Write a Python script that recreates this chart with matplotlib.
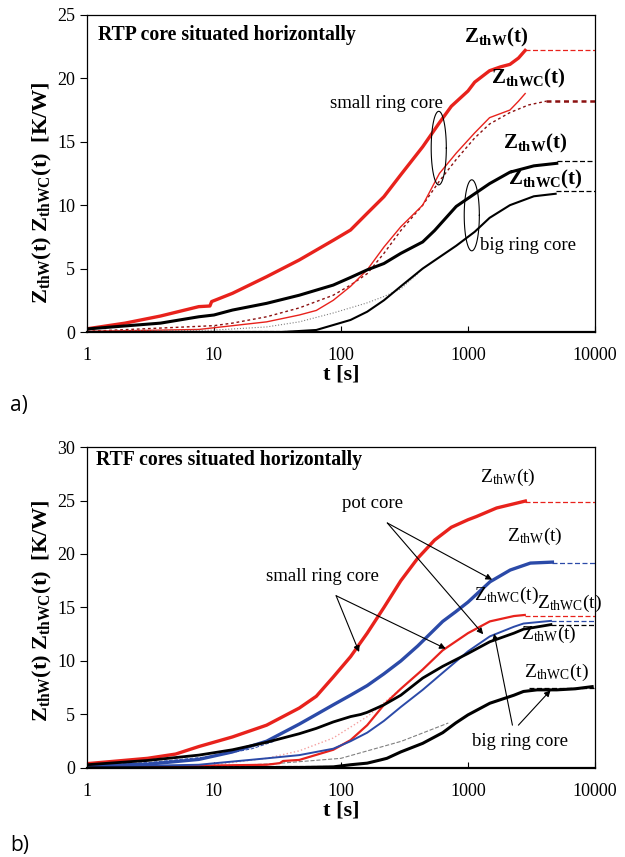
import numpy as np
import matplotlib.pyplot as plt

plt.rcParams['font.family'] = 'Liberation Serif'
plt.rcParams['mathtext.fontset'] = 'custom'
plt.rcParams['mathtext.rm'] = 'Liberation Serif'
plt.rcParams['mathtext.bf'] = 'Liberation Serif:bold'
plt.rcParams['mathtext.it'] = 'Liberation Serif:italic'

# ---------- panel a) RTP core ----------
a_t_srW = [1, 2, 3.8, 7.6, 9.3, 9.6, 14, 26, 47, 88, 119, 161, 218, 296, 440, 596, 740, 1000,
           1130, 1200, 1480, 1800, 2140, 2500, 2820]
a_srW = [0.25, 0.7, 1.26, 2.0, 2.05, 2.4, 3.05, 4.36, 5.68, 7.26, 8.04, 9.36, 10.67, 12.4, 14.6, 16.5,
         17.8, 19.0, 19.7, 19.9, 20.6, 20.9, 21.1, 21.6, 22.2]
a_t_srWC = [1, 7.6, 26, 47, 64, 87, 119, 161, 218, 296, 440, 596, 808, 1130, 1480, 2140, 2500, 2820]
a_srWC = [0.05, 0.2, 0.8, 1.34, 1.7, 2.5, 3.6, 4.9, 6.7, 8.3, 10.0, 12.5, 14.1, 15.7, 16.9, 17.5, 18.2, 18.8]
a_t_srWC_fit = [1, 10, 14, 26, 47, 87, 119, 161, 218, 296, 440, 596, 808, 1130, 1480, 2140, 3000, 4150]
a_srWC_fit = [0.05, 0.5, 0.7, 1.2, 1.9, 2.9, 3.7, 4.6, 6.2, 8.0, 10.0, 11.9, 13.6, 15.3, 16.4, 17.3, 17.9, 18.2]
a_t_brW = [1, 3.8, 7.6, 10, 14, 26, 47, 87, 119, 161, 218, 296, 440, 546, 808, 1130, 1480, 2140, 3300, 5000]
a_brW = [0.24, 0.7, 1.2, 1.34, 1.73, 2.26, 2.9, 3.7, 4.3, 4.9, 5.4, 6.2, 7.1, 8.0, 9.9, 10.9, 11.7, 12.6, 13.1, 13.3]
a_t_brWC = [35, 64, 87, 119, 161, 218, 296, 440, 596, 808, 1130, 1480, 2140, 3300, 4900]
a_brWC = [0.0, 0.16, 0.55, 0.95, 1.6, 2.5, 3.6, 5.0, 5.9, 6.8, 7.9, 9.0, 10.0, 10.7, 10.9]
a_t_brWC_fit = [1, 10, 26, 47, 87, 161, 218, 296, 402]
a_brWC_fit = [0.03, 0.15, 0.4, 0.8, 1.5, 2.3, 2.8, 3.4, 4.6]
a_plateau_t = [[2820, 10000], [4150, 10000], [5000, 10000], [4900, 10000]]
a_plateau_v = [22.2, 18.2, 13.45, 11.1]

# ---------- panel b) RTF cores ----------
b_t_srW = [1, 3, 5, 7.6, 14, 26, 47, 64, 87, 119, 161, 218, 296, 402, 546, 740, 1000, 1165, 1680, 2830]
b_srW = [0.4, 0.9, 1.3, 2.0, 2.9, 4.0, 5.6, 6.7, 8.5, 10.4, 12.6, 15.0, 17.5, 19.6, 21.3, 22.5, 23.2, 23.5,
         24.3, 24.95]
b_t_pcW = [1, 3, 7.6, 14, 26, 47, 64, 87, 119, 161, 218, 296, 402, 633, 800, 1000, 1490, 2150, 3100, 4620]
b_pcW = [0.2, 0.35, 0.8, 1.5, 2.5, 4.1, 5.0, 5.9, 6.8, 7.7, 8.8, 10.0, 11.4, 13.7, 14.6, 15.5, 17.4, 18.5,
         19.15, 19.24]
b_t_srWC = [1, 26, 33, 35, 47, 87, 119, 161, 218, 296, 440, 633, 1000, 1487, 2300, 2800]
b_srWC = [0.05, 0.3, 0.45, 0.65, 0.75, 1.7, 2.6, 4.0, 5.9, 7.4, 9.2, 11.0, 12.6, 13.7, 14.2, 14.3]
b_t_srWC_fit = [10, 26, 47, 87, 161, 296]
b_srWC_fit = [0.3, 0.9, 1.6, 2.8, 4.8, 7.4]
b_t_pcWC = [1, 7.6, 26, 47, 87, 119, 161, 218, 296, 440, 633, 1000, 1487, 2300, 2735, 4500]
b_pcWC = [0.1, 0.3, 0.9, 1.2, 1.8, 2.5, 3.3, 4.4, 5.7, 7.3, 8.9, 10.9, 12.3, 13.2, 13.5, 13.75]
b_t_brW = [1, 3, 7.6, 14, 26, 47, 64, 87, 119, 143, 161, 218, 296, 440, 633, 1000, 1487, 2300, 2735, 4500]
b_brW = [0.3, 0.7, 1.2, 1.7, 2.4, 3.2, 3.7, 4.3, 4.8, 5.0, 5.2, 5.9, 6.8, 8.4, 9.5, 10.7, 11.8, 12.6, 12.97,
         13.4]
b_t_brWC = [1, 50, 87, 119, 161, 205, 230, 296, 440, 633, 800, 1000, 1487, 2300, 2735, 3500, 5000, 7000,
            9500]
b_brWC = [0.0, 0.05, 0.1, 0.3, 0.45, 0.75, 0.9, 1.5, 2.3, 3.3, 4.2, 4.96, 6.05, 6.8, 7.15, 7.3, 7.3, 7.4, 7.6]
b_t_brWC_fit = [1, 10, 30, 100, 300, 700]
b_brWC_fit = [0.05, 0.15, 0.4, 0.9, 2.5, 4.2]
b_t_pcW_fit = [1, 3, 10, 20, 30]
b_pcW_fit = [0.25, 0.5, 1.1, 1.8, 2.5]
b_plateau_t = [[2830, 10000], [4620, 10000], [2800, 10000], [4500, 10000], [4500, 10000], [3000, 10000]]
b_plateau_v = [24.9, 19.2, 14.25, 13.75, 13.4, 7.45]
b_plateau_c = ['#e8221c', '#2b4aa8', '#e8221c', '#2b4aa8', 'black', 'black']

RED = '#e8221c'
BLUE = '#2b4aa8'
DARKRED = '#8b1010'

fig = plt.figure(figsize=(6.25, 8.57), dpi=100)
ax1 = fig.add_axes([0.139, 0.6126, 0.813, 0.37])
ax2 = fig.add_axes([0.139, 0.1039, 0.813, 0.3745])


def style_axes(ax, ymax, label_y):
    ax.set_xscale('log')
    ax.set_xlim(1, 10000)
    ax.set_ylim(0, ymax)
    ax.set_xticks([1, 10, 100, 1000, 10000])
    ax.set_xticklabels(['1', '10', '100', '1000', '10000'])
    ax.minorticks_off()
    ax.set_yticks(np.arange(0, ymax + 1, 5))
    ax.tick_params(axis='x', direction='in', length=4, labelsize=13, pad=11)
    ax.tick_params(axis='y', direction='out', length=5, labelsize=13)
    for s in ax.spines.values():
        s.set_linewidth(0.9)
    ax.spines['bottom'].set_linewidth(1.6)
    ax.set_xlabel('t [s]', fontsize=16, fontweight='bold', labelpad=0)
    ax.set_ylabel(r'$\mathbf{Z_{thW}(t)\ Z_{thWC}(t)\ \ [K/W]}$', fontsize=16)
    ax.yaxis.set_label_coords(-0.064, label_y)


def ellipse(ax, logx, yc, w, h):
    th = np.linspace(0, 2 * np.pi, 100)
    ax.plot(10 ** (logx + w / 2 * np.cos(th)), yc + h / 2 * np.sin(th), color='black', lw=0.8)


# ----- panel a -----
ax1.plot(a_t_srW, a_srW, color='#f4a0a0', lw=1.0, ls=':')
ax1.plot(a_t_srW, a_srW, color=RED, lw=2.4)
ax1.plot(a_t_srWC_fit, a_srWC_fit, color=DARKRED, lw=1.0, ls=(0, (2, 2)))
ax1.plot(a_t_srWC, a_srWC, color=RED, lw=1.0)
ax1.plot(a_t_brWC_fit, a_brWC_fit, color='gray', lw=0.8, ls=':')
ax1.plot([1, 50], [0.08, 0.08], color='black', lw=0.8, ls='--')
ax1.plot(a_t_brW, a_brW, color='black', lw=2.2)
ax1.plot(a_t_brWC, a_brWC, color='black', lw=1.5)
for tt, v, c in zip(a_plateau_t, a_plateau_v, [RED, DARKRED, 'black', 'black']):
    if c == DARKRED:
        ax1.plot(tt, [v, v], color=c, lw=1.8, ls=(0, (2, 1.5)))
    else:
        ax1.plot(tt, [v, v], color=c, lw=0.9, ls=(0, (4, 2)))
style_axes(ax1, 25, 0.44)

ellipse(ax1, 2.77, 14.5, 0.119, 5.8)
ellipse(ax1, 3.03, 9.2, 0.119, 5.6)

ax1.text(1.22, 23.4, 'RTP core situated horizontally', fontsize=14.2, fontweight='bold', va='center')
ax1.text(10 ** 3.22, 23.2, r'$\mathbf{Z_{thW}(t)}$', fontsize=15, ha='center', va='center')
ax1.text(10 ** 3.475, 20.0, r'$\mathbf{Z_{thWC}(t)}$', fontsize=15, ha='center', va='center')
ax1.text(10 ** 2.36, 18.0, 'small ring core', fontsize=13.5, ha='center', va='center')
ax1.text(10 ** 3.53, 14.9, r'$\mathbf{Z_{thW}(t)}$', fontsize=15, ha='center', va='center')
ax1.text(10 ** 3.61, 12.0, r'$\mathbf{Z_{thWC}(t)}$', fontsize=15, ha='center', va='center')
ax1.text(10 ** 3.47, 6.8, 'big ring core', fontsize=13.5, ha='center', va='center')

# ----- panel b -----
ax2.plot(b_t_srWC_fit, b_srWC_fit, color='#f4a0a0', lw=1.0, ls=':')
ax2.plot(b_t_brWC_fit, b_brWC_fit, color='gray', lw=0.8, ls='--')
ax2.plot(b_t_pcW_fit, b_pcW_fit, color=BLUE, lw=0.7, ls='--')
ax2.plot([1, 100], [0.15, 0.15], color='black', lw=0.8, ls='--')
ax2.plot(b_t_srW, b_srW, color=RED, lw=2.4)
ax2.plot(b_t_pcW, b_pcW, color=BLUE, lw=2.4)
ax2.plot(b_t_srWC, b_srWC, color=RED, lw=1.6)
ax2.plot(b_t_pcWC, b_pcWC, color=BLUE, lw=1.4)
ax2.plot(b_t_brW, b_brW, color='black', lw=2.0)
ax2.plot(b_t_brWC, b_brWC, color='black', lw=2.2)
for tt, v, c in zip(b_plateau_t, b_plateau_v, b_plateau_c):
    ax2.plot(tt, [v, v], color=c, lw=0.9, ls=(0, (4, 2)))
style_axes(ax2, 30, 0.49)

ax2.text(1.18, 28.75, 'RTF cores situated horizontally', fontsize=14.2, fontweight='bold', va='center')
ax2.text(10 ** 3.31, 27.2, r'$\mathrm{Z_{thW}(t)}$', fontsize=14, ha='center', va='center')
ax2.text(10 ** 2.25, 24.7, 'pot core', fontsize=13.5, ha='center', va='center')
ax2.text(10 ** 3.53, 21.65, r'$\mathrm{Z_{thW}(t)}$', fontsize=14, ha='center', va='center')
ax2.text(10 ** 1.857, 17.85, 'small ring core', fontsize=13.5, ha='center', va='center')
ax2.text(10 ** 3.30, 16.1, r'$\mathrm{Z_{thWC}(t)}$', fontsize=14, ha='center', va='center')
ax2.text(10 ** 3.80, 15.35, r'$\mathrm{Z_{thWC}(t)}$', fontsize=14, ha='center', va='center')
ax2.text(10 ** 3.64, 12.5, r'$\mathrm{Z_{thW}(t)}$', fontsize=14, ha='center', va='center')
ax2.text(10 ** 3.70, 8.9, r'$\mathrm{Z_{thWC}(t)}$', fontsize=14, ha='center', va='center')
ax2.text(10 ** 3.41, 2.5, 'big ring core', fontsize=13.5, ha='center', va='center')

arrows = [
    ((2.365, 22.9), (3.19, 17.6)),
    ((2.365, 22.9), (3.12, 12.5)),
    ((1.962, 16.1), (2.143, 10.84)),
    ((1.962, 16.1), (2.825, 11.15)),
    ((3.35, 4.0), (3.206, 12.55)),
    ((3.397, 4.0), (3.65, 7.26)),
]
for (sx, sy), (ex, ey) in arrows:
    ax2.annotate('', xy=(10 ** ex, ey), xytext=(10 ** sx, sy),
                 arrowprops=dict(arrowstyle='-|>', color='black', lw=0.8,
                                 mutation_scale=9, shrinkA=0, shrinkB=0))

fig.text(0.016, 0.527, 'a)', fontsize=15, family='Open Sans', va='center')
fig.text(0.016, 0.014, 'b)', fontsize=15, family='Open Sans', va='center')

fig.savefig('out.png', dpi=100)
